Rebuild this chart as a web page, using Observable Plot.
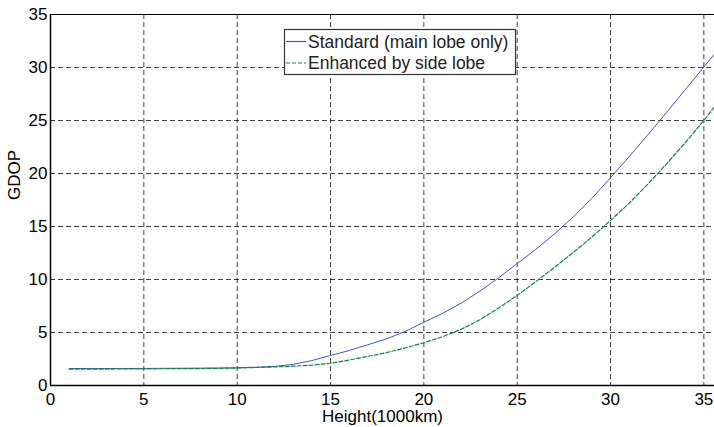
<!DOCTYPE html>
<html>
<head>
<meta charset="utf-8">
<script src="https://cdn.jsdelivr.net/npm/d3@7"></script>
<script src="https://cdn.jsdelivr.net/npm/@observablehq/plot@0.6"></script>
<style>
  body { margin: 0; background: #fff; }
  #chart { position: relative; width: 714px; height: 427px; }
</style>
</head>
<body>
<div id="chart"></div>
<script>
const heights = [1,2,3,4,5,6,7,8,9,10,11,12,13,14,15,16,17,18,19,20,21,22,23,24,25,26,27,28,29,30,31,32,33,34,35,36];
const standard = [1.6,1.6,1.6,1.6,1.61,1.62,1.63,1.64,1.65,1.67,1.72,1.8,2.0,2.35,2.83,3.3,3.85,4.4,5.1,5.97,6.8,7.77,8.9,10.15,11.5,12.85,14.3,15.9,17.65,19.6,21.6,23.65,25.75,27.9,30.05,32.2];
const enhanced = [1.55,1.55,1.55,1.56,1.57,1.58,1.59,1.6,1.62,1.65,1.7,1.75,1.82,1.92,2.1,2.4,2.75,3.1,3.55,4.03,4.6,5.3,6.2,7.3,8.5,9.8,11.15,12.55,14.0,15.57,17.2,19.0,20.9,22.9,25.0,27.3];
const seriesNames = ["Standard (main lobe only)", "Enhanced by side lobe"];
const xTicks = [0,5,10,15,20,25,30,35];
const yTicks = [0,5,10,15,20,25,30,35];

const stdData = heights.map((h, i) => ({h, v: standard[i]}));
const enhData = heights.map((h, i) => ({h, v: enhanced[i]}));

const font = "'Liberation Sans', Arial, Helvetica, sans-serif";
const plot = Plot.plot({
  width: 714,
  height: 427,
  marginLeft: 50,
  marginRight: 0,
  marginTop: 14,
  marginBottom: 42,
  style: {fontFamily: font, fontSize: "17px", color: "#000", background: "#fff"},
  x: {domain: [0, 35.57], ticks: xTicks},
  y: {domain: [0, 35], ticks: yTicks},
  marks: [
    Plot.gridX(xTicks.slice(1), {stroke: "#000", strokeOpacity: 0.75, strokeDasharray: "5,3", strokeWidth: 1}),
    Plot.gridY(yTicks.slice(1), {stroke: "#000", strokeOpacity: 0.75, strokeDasharray: "5,3", strokeWidth: 1}),
    Plot.line(stdData, {x: "h", y: "v", stroke: "#3a5bc7", strokeWidth: 1, clip: true}),
    Plot.line(enhData, {x: "h", y: "v", stroke: "#0a8a3a", strokeWidth: 1.2, strokeDasharray: "4,2", clip: true}),
    Plot.ruleX([0], {stroke: "#000", strokeWidth: 1.5}),
    Plot.ruleY([0], {stroke: "#000", strokeWidth: 1.5}),
    Plot.ruleY([35], {stroke: "#000", strokeWidth: 1.2}),
    Plot.axisX(xTicks, {tickSize: 0, tickPadding: 7, label: null, fontSize: 17}),
    Plot.axisY(yTicks, {tickSize: 0, tickPadding: 3, label: null, fontSize: 17}),
    Plot.text(["Height(1000km)"], {frameAnchor: "bottom", lineAnchor: "middle", dy: 31, fontSize: 17}),
    Plot.text(["GDOP"], {frameAnchor: "left", dx: -36, rotate: -90, fontSize: 17})
  ]
});
document.getElementById("chart").appendChild(plot);

// Legend drawn in the SVG
const svg = d3.select(plot);
const lg = svg.append("g").attr("font-family", font).attr("font-size", 17.5).attr("text-anchor", "start");
lg.append("rect").attr("x", 284.5).attr("y", 29.5).attr("width", 231).attr("height", 45)
  .attr("fill", "#fff").attr("stroke", "#333").attr("stroke-width", 1.2);
const items = [
  {name: seriesNames[0], color: "#3a5bc7", dash: null, y: 41.5},
  {name: seriesNames[1], color: "#0a8a3a", dash: "4,2", y: 63}
];
items.forEach(it => {
  lg.append("line").attr("x1", 286).attr("x2", 306).attr("y1", it.y).attr("y2", it.y)
    .attr("stroke", it.color).attr("stroke-width", 1.2).attr("stroke-dasharray", it.dash);
  lg.append("text").attr("x", 308).attr("y", it.y).attr("dy", "0.35em").attr("fill", "#222")
    .attr("text-anchor", "start").text(it.name);
});
</script>
</body>
</html>
